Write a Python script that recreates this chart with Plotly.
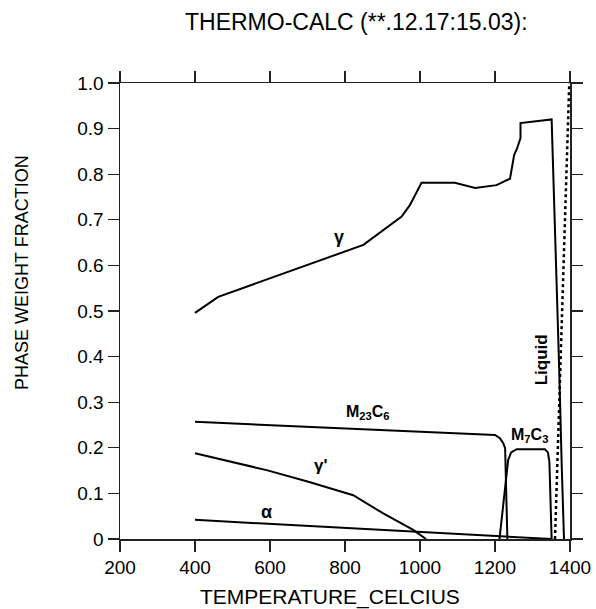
import plotly.graph_objects as go

# ---- data ----
gamma_T = [400, 462, 849, 951, 973, 1004, 1093, 1147, 1204, 1240, 1251, 1259, 1268, 1268, 1351, 1355, 1364, 1371, 1378, 1384]
gamma_W = [0.496, 0.531, 0.645, 0.707, 0.732, 0.781, 0.781, 0.770, 0.776, 0.790, 0.842, 0.857, 0.879, 0.912, 0.920, 0.816, 0.597, 0.378, 0.159, 0.0]

m23c6_T = [400, 1187, 1200, 1213, 1222, 1227, 1233]
m23c6_W = [0.257, 0.230, 0.228, 0.221, 0.210, 0.199, 0.0]

m7c3_T = [1212, 1235, 1243, 1258, 1333, 1341, 1345, 1351]
m7c3_W = [0.0, 0.173, 0.190, 0.197, 0.197, 0.190, 0.170, 0.0]

gp_T = [400, 591, 700, 822, 902, 982, 1016]
gp_W = [0.188, 0.151, 0.126, 0.096, 0.056, 0.020, 0.0]

alpha_T = [400, 1000, 1213, 1350]
alpha_W = [0.042, 0.016, 0.0066, 0.0]

liquid_T = [1360, 1377, 1394, 1398]
liquid_W = [0.0, 0.45, 0.89, 1.0]

x_tickvals = [200, 400, 600, 800, 1000, 1200, 1400]
x_ticktext = ["200", "400", "600", "800", "1000", "1200", "1400"]
y_tickvals = [0, 0.1, 0.2, 0.3, 0.4, 0.5, 0.6, 0.7, 0.8, 0.9, 1.0]
y_ticktext = ["0", "0.1", "0.2", "0.3", "0.4", "0.5", "0.6", "0.7", "0.8", "0.9", "1.0"]

# label text, position (data coords), angle, size
labels = [
    ("γ", 783, 0.663, 0, 18),
    ("M<sub>23</sub>C<sub>6</sub>", 860, 0.277, 0, 16),
    ("γ'", 735, 0.161, 0, 17),
    ("α", 591, 0.060, 0, 18),
    ("M<sub>7</sub>C<sub>3</sub>", 1291, 0.226, 0, 16),
    ("Liquid", 1324, 0.393, -90, 17),
]

FONT = "Arial, Liberation Sans, sans-serif"
LINE = dict(color="black", width=2)

fig = go.Figure()
for T, W in [(gamma_T, gamma_W), (m23c6_T, m23c6_W), (m7c3_T, m7c3_W),
             (gp_T, gp_W), (alpha_T, alpha_W)]:
    fig.add_trace(go.Scatter(x=T, y=W, mode="lines", line=LINE, showlegend=False,
                             hoverinfo="skip"))
fig.add_trace(go.Scatter(x=liquid_T, y=liquid_W, mode="lines",
                         line=dict(color="black", width=2.5, dash="dot"),
                         showlegend=False, hoverinfo="skip"))

for text, x, y, ang, sz in labels:
    fig.add_annotation(x=x, y=y, xref="x", yref="y", text="<b>%s</b>" % text,
                       showarrow=False, textangle=ang,
                       font=dict(family=FONT, size=sz, color="black"))

W_, H_ = 596, 609
ml, mr, mt, mb = 120, 26, 83, 70
pw, ph = W_ - ml - mr, H_ - mt - mb


def px2paper(px, py):
    return (px - ml) / pw, (H_ - mb - py) / ph


for text, px, py, ang, sz in [
    ("THERMO-CALC (**.12.17:15.03):", 356, 22, 0, 23),
    ("TEMPERATURE_CELCIUS", 330, 597, 0, 21),
    ("PHASE WEIGHT FRACTION", 22, 273, -90, 18),
]:
    xp, yp = px2paper(px, py)
    fig.add_annotation(x=xp, y=yp, xref="paper", yref="paper", text=text,
                       showarrow=False, textangle=ang, xanchor="center", yanchor="middle",
                       font=dict(family=FONT, size=sz, color="black"))

axis_common = dict(showgrid=False, zeroline=False, showline=True, linecolor="#222",
                   linewidth=1.5, ticks="outside", ticklen=11, tickwidth=1.2,
                   tickcolor="#222", mirror="ticks", automargin=False,
                   tickfont=dict(family=FONT, size=19, color="black"))

fig.update_xaxes(range=[200, 1400], tickvals=x_tickvals, ticktext=x_ticktext, **axis_common)
fig.update_yaxes(range=[0, 1.0], tickvals=y_tickvals, ticktext=y_ticktext, **axis_common)

fig.update_layout(width=W_, height=H_, margin=dict(l=ml, r=mr, t=mt, b=mb, autoexpand=False),
                  plot_bgcolor="white", paper_bgcolor="white")

fig.write_html("out.html", config={"displayModeBar": False, "staticPlot": True},
               post_script="document.body.style.margin='0';document.body.style.overflow='hidden';")
